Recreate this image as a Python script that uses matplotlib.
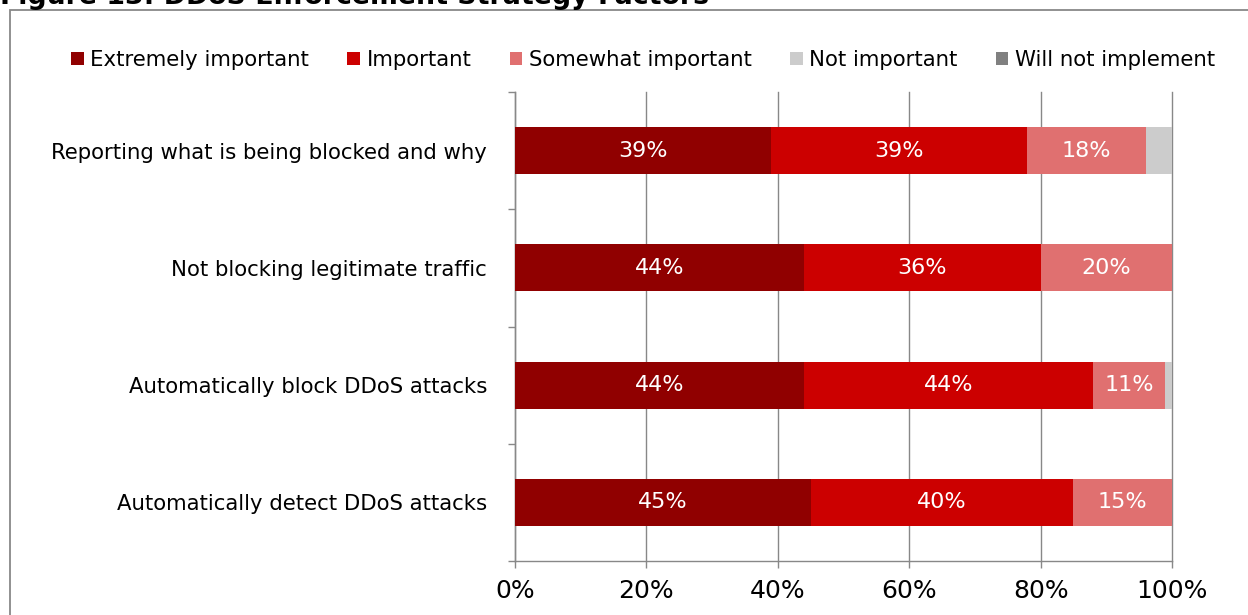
import matplotlib.pyplot as plt
import matplotlib.patches as mpatches
import numpy as np

categories = ["Reporting what is being blocked and why",
              "Not blocking legitimate traffic",
              "Automatically block DDoS attacks",
              "Automatically detect DDoS attacks"]
series = ["Extremely important", "Important", "Somewhat important",
          "Not important", "Will not implement"]
extremely = [39, 44, 44, 45]
important = [39, 36, 44, 40]
somewhat = [18, 20, 11, 15]
not_important = [4, 0, 1, 0]
will_not = [0, 0, 0, 0]
xticks = [0, 20, 40, 60, 80, 100]

colors = ["#900000", "#CC0000", "#E07070", "#CCCCCC", "#808080"]
values = [extremely, important, somewhat, not_important, will_not]

fig = plt.figure(figsize=(12.48, 6.15), dpi=100)
ax = fig.add_axes([515 / 1248, 1 - 561 / 615, 657 / 1248, 469 / 615])

# outer frame and clipped heading
fig.patches.append(mpatches.Rectangle((10 / 1248, -0.1), 1.2, 1 - 10 / 615 + 0.1,
                                      transform=fig.transFigure, fill=False,
                                      edgecolor="#888888", linewidth=1.3))
fig.text(0.0, 1 - 4.5 / 615, "Figure 13: DDoS Enforcement Strategy Factors",
         fontsize=19.3, fontweight="bold", va="baseline", ha="left")

y = np.arange(len(categories))[::-1]
left = np.zeros(len(categories))
for name, vals, c in zip(series, values, colors):
    vals = np.array(vals, dtype=float)
    bars = ax.barh(y, vals, left=left, height=0.4, color=c, label=name,
                   zorder=3)
    if name in ("Extremely important", "Important", "Somewhat important"):
        for b, v in zip(bars, vals):
            if v > 0:
                ax.text(b.get_x() + b.get_width() / 2, b.get_y() + b.get_height() / 2,
                        f"{v:.0f}%", ha="center", va="center", color="white",
                        fontsize=16, zorder=4)
    left += vals

ax.set_xlim(0, 100)
ax.set_ylim(-0.5, 3.5)
ax.set_xticks(xticks)
ax.set_xticklabels([f"{t}%" for t in xticks], fontsize=18)
ax.set_yticks(y)
ax.set_yticklabels(categories, fontsize=15.3)
ax.set_yticks(np.arange(-0.5, 4.0, 1.0), minor=True)
ax.tick_params(axis="y", which="major", length=0, pad=20)
ax.tick_params(axis="y", which="minor", length=5, color="#888888", width=1)
ax.tick_params(axis="x", length=5, color="#888888", width=1, pad=8)

ax.grid(axis="x", color="#888888", linewidth=1, zorder=0)
for gl in ax.get_xgridlines():
    gl.set_clip_on(False)
for s in ("top", "right"):
    ax.spines[s].set_visible(False)
for s in ("left", "bottom"):
    ax.spines[s].set_color("#888888")
    ax.spines[s].set_linewidth(1)

fig.legend(loc="center", bbox_to_anchor=(643 / 1248, 1 - 60 / 615), ncol=5,
           frameon=False, fontsize=15.3, handlelength=0.6, handleheight=0.6,
           handletextpad=0.3, columnspacing=1.8, borderaxespad=0)

fig.savefig("out.png", dpi=100)
